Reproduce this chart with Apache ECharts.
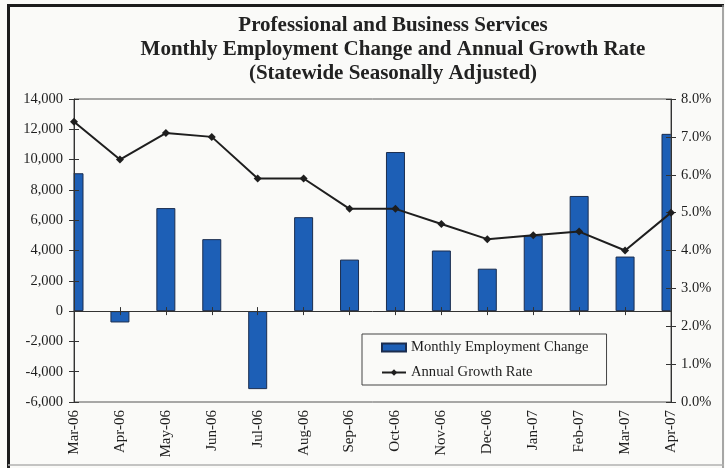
<!DOCTYPE html>
<html>
<head>
<meta charset="utf-8">
<script src="https://cdn.jsdelivr.net/npm/echarts@6/dist/echarts.min.js"></script>
<style>
html,body{margin:0;padding:0;background:#ffffff;}
#chart{width:725px;height:468px;}
</style>
</head>
<body>
<div id="chart"></div>
<script>
var categories = ['Mar-06','Apr-06','May-06','Jun-06','Jul-06','Aug-06','Sep-06','Oct-06','Nov-06','Dec-06','Jan-07','Feb-07','Mar-07','Apr-07'];
var employmentChange = [9100, -750, 6800, 4750, -5150, 6200, 3400, 10500, 4000, 2800, 5000, 7600, 3600, 11700];
var growthRate = [7.4, 6.4, 7.1, 7.0, 5.9, 5.9, 5.1, 5.1, 4.7, 4.3, 4.4, 4.5, 4.0, 5.0];
var titleLines = ['Professional and Business Services', 'Monthly Employment Change and Annual Growth Rate', '(Statewide Seasonally Adjusted)'];
var seriesNames = ['Monthly Employment Change', 'Annual Growth Rate'];
var leftAxisRange = [-6000, 14000, 2000];
var rightAxisRange = [0, 8, 1];

var SERIF = '"Liberation Serif", "Times New Roman", serif';
var TXT = '#1e1e1e';
var BG = '#fafaf8';
var chart = echarts.init(document.getElementById('chart'), null, {renderer: 'canvas'});

function catAxis(extra) {
  var base = {
    type: 'category', data: categories, boundaryGap: false, z: 10,
    axisLine: {show: false}, axisTick: {show: false}, axisLabel: {show: false},
    splitLine: {show: false}
  };
  for (var k in extra) base[k] = extra[k];
  return base;
}
function valAxis(range, extra) {
  var base = {
    type: 'value', min: range[0], max: range[1], interval: range[2], z: 10,
    splitLine: {show: false}, axisLine: {show: false}, axisTick: {show: false}, axisLabel: {show: false}
  };
  for (var k in extra) base[k] = extra[k];
  return base;
}

var option = {
  backgroundColor: BG,
  animation: false,
  graphic: [
    // masks that trim the half-bars at both ends of the plot area
    {type: 'rect', z: 4, shape: {x: 40, y: 99, width: 33.5, height: 303.5}, style: {fill: BG}},
    {type: 'rect', z: 4, shape: {x: 671.6, y: 99, width: 30, height: 303.5}, style: {fill: BG}},
    {type: 'line', z: 20, shape: {x1: 8.5, y1: 4, x2: 8.5, y2: 468}, style: {stroke: '#1c1c1c', lineWidth: 3}},
    {type: 'line', z: 20, shape: {x1: 7, y1: 5.5, x2: 724, y2: 5.5}, style: {stroke: '#1c1c1c', lineWidth: 3}},
    {type: 'line', z: 20, shape: {x1: 723, y1: 5, x2: 723, y2: 468}, style: {stroke: '#8a8a8a', lineWidth: 1.5}},
    {type: 'line', z: 20, shape: {x1: 8, y1: 465, x2: 724, y2: 465}, style: {stroke: '#b0b0b0', lineWidth: 1.5}},
    {type: 'text', z: 20, x: 393, y: 25.5, style: {text: titleLines[0], font: 'bold 21px ' + SERIF, fill: '#222', align: 'center', verticalAlign: 'middle'}},
    {type: 'text', z: 20, x: 393, y: 50, style: {text: titleLines[1], font: 'bold 21px ' + SERIF, fill: '#222', align: 'center', verticalAlign: 'middle'}},
    {type: 'text', z: 20, x: 393, y: 73.5, style: {text: titleLines[2], font: 'bold 21px ' + SERIF, fill: '#222', align: 'center', verticalAlign: 'middle'}}
  ],
  grid: {left: 74, right: 54, top: 99, bottom: 66, show: true, z: 10, borderColor: '#555', borderWidth: 1, backgroundColor: 'transparent', containLabel: false},
  legend: {
    orient: 'vertical', left: 362, top: 334, z: 20,
    padding: [6, 18, 5, 19], itemGap: 10, itemWidth: 24, itemHeight: 8,
    borderColor: '#444', borderWidth: 1, backgroundColor: 'transparent',
    textStyle: {fontFamily: SERIF, fontSize: 14.6, color: TXT, lineHeight: 15},
    data: [{name: seriesNames[0], icon: 'rect'}, {name: seriesNames[1]}]
  },
  xAxis: [
    catAxis({position: 'bottom', axisLabel: {show: true, rotate: 90, margin: 8, fontFamily: SERIF, fontSize: 15, color: TXT, interval: 0}}),
    catAxis({position: 'bottom', axisLine: {show: true, onZero: true, onZeroAxisIndex: 0, lineStyle: {color: '#333', width: 1}}, axisTick: {show: true, inside: false, length: 4, interval: 0, lineStyle: {color: '#333'}}}),
    catAxis({position: 'top', axisLine: {show: false, onZero: true, onZeroAxisIndex: 0}, axisTick: {show: true, inside: false, length: 4, interval: 0, lineStyle: {color: '#333'}}})
  ],
  yAxis: [
    valAxis(leftAxisRange, {position: 'left', axisLine: {show: true, lineStyle: {color: '#333'}}, axisTick: {show: true, length: 5, lineStyle: {color: '#333'}}, axisLabel: {show: true, margin: 11, fontFamily: SERIF, fontSize: 14.5, color: TXT}}),
    valAxis(rightAxisRange, {position: 'right', axisLine: {show: true, lineStyle: {color: '#333'}}, axisTick: {show: true, length: 5, lineStyle: {color: '#333'}}, axisLabel: {show: true, margin: 10, fontFamily: SERIF, fontSize: 14.5, color: TXT, formatter: function (v) { return v.toFixed(1) + '%'; }}}),
    valAxis(leftAxisRange, {position: 'left', axisTick: {show: true, inside: true, length: 5, lineStyle: {color: '#333'}}}),
    valAxis(rightAxisRange, {position: 'right', axisTick: {show: true, inside: true, length: 5, lineStyle: {color: '#333'}}})
  ],
  series: [
    {
      name: seriesNames[0], type: 'bar', xAxisIndex: 0, yAxisIndex: 0, z: 2,
      data: employmentChange, barWidth: 19,
      itemStyle: {color: '#1d5fb6', borderColor: '#1b2d4f', borderWidth: 1}
    },
    {
      name: seriesNames[1], type: 'line', xAxisIndex: 0, yAxisIndex: 1,
      data: growthRate, symbol: 'diamond', symbolSize: 8, z: 12,
      lineStyle: {color: '#1e1e1e', width: 2},
      itemStyle: {color: '#1e1e1e'}
    }
  ]
};
chart.setOption(option);
</script>
</body>
</html>
